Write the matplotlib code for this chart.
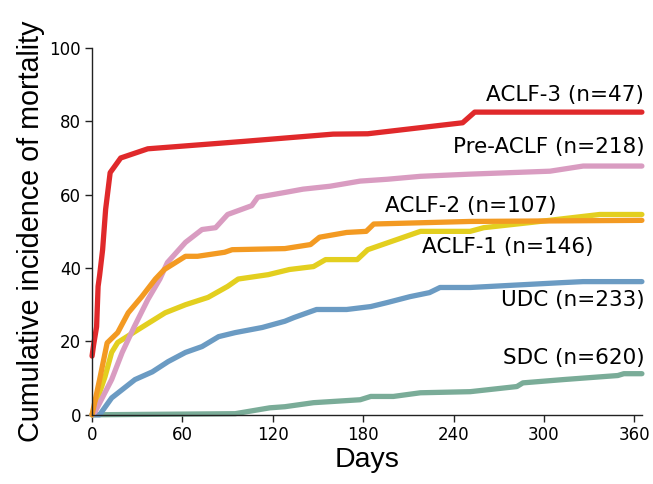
import matplotlib
matplotlib.use("Agg")
import matplotlib.pyplot as plt

# Cumulative incidence of mortality (%)
aclf3_days = [0, 1, 3, 4, 5, 7, 9, 12, 19, 37, 100, 160, 183, 246, 254, 365]
aclf3_vals = [16, 19, 24, 35, 38, 45, 56, 66, 70, 72.5, 74.5, 76.5, 76.6, 79.6, 82.5, 82.5]

pre_days = [0, 2, 13, 20, 28, 37, 45, 50, 62, 73, 82, 90, 106, 110, 128, 140,
            158, 178, 196, 218, 251, 304, 326, 365]
pre_vals = [0, 0.8, 9.6, 17, 24, 31.4, 37, 41.5, 47, 50.5, 51, 54.6, 57, 59.3,
            60.6, 61.5, 62.3, 63.7, 64.2, 65, 65.6, 66.4, 67.8, 67.8]

aclf2_days = [0, 5, 10, 17, 24, 33, 42, 48, 62, 70, 88, 93, 128, 145, 151,
              169, 182, 187, 251, 365]
aclf2_vals = [0, 9.6, 19.6, 22.4, 27.8, 32.2, 37, 39.6, 43.2, 43.2, 44.3, 45,
              45.3, 46.4, 48.4, 49.7, 50, 52, 52.7, 53]

aclf1_days = [0, 8.6, 13, 17, 30.5, 48.5, 62, 77, 90, 97, 117, 131, 147, 155,
              176, 183, 218, 251, 260, 293, 337, 365]
aclf1_vals = [0, 10.4, 17, 19.7, 23.2, 27.8, 30, 32, 35, 37, 38.2, 39.6, 40.4,
              42.3, 42.3, 45, 50, 50, 51, 52.5, 54.6, 54.6]

udc_days = [0, 5, 13, 28.5, 40, 50.5, 62, 73, 84, 95, 113, 128, 134, 149, 169,
            185, 196, 211, 224, 231, 251, 311, 326, 365]
udc_vals = [0, 0, 4.6, 9.6, 11.7, 14.5, 17, 18.6, 21.3, 22.4, 23.8, 25.5, 26.5,
            28.7, 28.7, 29.5, 30.6, 32.2, 33.3, 34.7, 34.7, 36, 36.3, 36.3]

sdc_days = [0, 95, 118, 128, 147, 178, 185, 200, 218, 251, 282, 286, 313, 349,
            353, 365]
sdc_vals = [0, 0.3, 1.9, 2.2, 3.3, 4.1, 5, 5, 6, 6.3, 7.7, 8.7, 9.6, 10.7,
            11.2, 11.2]

labels = ["ACLF-3 (n=47)", "Pre-ACLF (n=218)", "ACLF-2 (n=107)",
          "ACLF-1 (n=146)", "UDC (n=233)", "SDC (n=620)"]


def plot_curves():
    fig = plt.figure(figsize=(6.53, 4.84), dpi=100)
    ax = fig.add_axes([0.141, 0.143, 0.842, 0.758])

    series = [
        (sdc_days, sdc_vals, "#7aac98"),
        (udc_days, udc_vals, "#6b9bc3"),
        (aclf1_days, aclf1_vals, "#e3cf1f"),
        (pre_days, pre_vals, "#d99cc1"),
        (aclf2_days, aclf2_vals, "#f39a22"),
        (aclf3_days, aclf3_vals, "#e0292b"),
    ]
    for days, vals, color in series:
        ax.plot(days, vals, color=color, lw=3.8, solid_joinstyle="round",
                solid_capstyle="round", clip_on=False)

    # curve labels
    label_pos = [(366.5, 87.3), (366.5, 73), (308, 56.8), (333, 45.6),
                 (366.5, 31.4), (366.5, 15.6)]
    for text, (x, y) in zip(labels, label_pos):
        ax.text(x, y, text, ha="right", va="center", fontsize=15.5,
                family="DejaVu Sans", color="black")

    ax.set_xlim(0, 365)
    ax.set_ylim(0, 100)
    ax.set_xticks(range(0, 361, 60))
    ax.set_yticks(range(0, 101, 20))
    ax.spines["top"].set_visible(False)
    ax.spines["right"].set_visible(False)
    for s in ("left", "bottom"):
        ax.spines[s].set_linewidth(1.0)
        ax.spines[s].set_color("#222222")
    ax.tick_params(direction="out", length=5, width=1.0, labelsize=12,
                   color="#222222", pad=3)

    ax.set_xlabel("Days", fontsize=20.5, family="Liberation Sans", labelpad=2)
    ax.set_ylabel("Cumulative incidence of mortality", fontsize=20.7,
                  family="Liberation Sans", labelpad=3)

    fig.savefig("out.png", dpi=100)


if __name__ == "__main__":
    plot_curves()
